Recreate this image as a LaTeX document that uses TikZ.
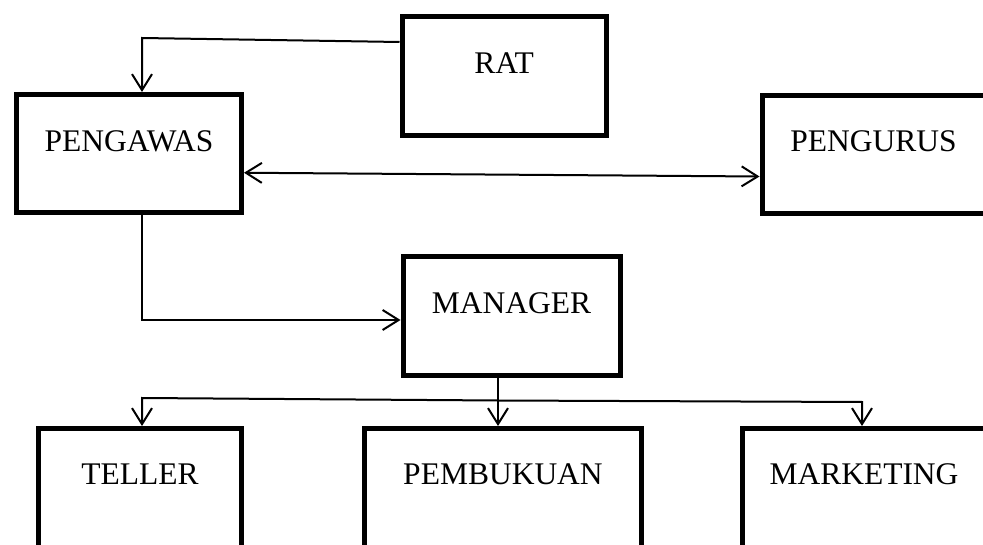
\documentclass[tikz,border=0pt]{standalone}
\usepackage{fontspec}
\setmainfont{Liberation Serif}
\usepackage{tikz}
\usetikzlibrary{arrows.meta,positioning,calc}
\tikzset{
    unit_box/.style={draw=black, fill=white, line width=5pt, inner sep=0pt, align=center, font=\fontsize{31.5}{36}\selectfont, text height=21pt, text depth=26pt, minimum height=118.5pt},
    low_box/.style={unit_box, text depth=36pt, minimum height=126pt},
    link_line/.style={draw=black, line width=2pt, line join=miter},
    link_arrow/.style={link_line, -{Straight Barb[length=16pt,width=20pt]}},
    link_both/.style={link_line, {Straight Barb[length=16pt,width=20pt]}-{Straight Barb[length=16pt,width=20pt]}}
}

\begin{document}
\begin{tikzpicture}[x=1pt, y=-1pt]
  \useasboundingbox (0,0) rectangle (983,545);
  \clip (0,0) rectangle (983,545);

  % Top: RAT, Pengawas, Pengurus
  \node[unit_box, minimum width=204pt] (box_rat) at (504,76) {RAT};
  \node[unit_box, minimum width=225pt] (box_pengawas) at (129,153.75) {PENGAWAS};
  \node[unit_box, minimum width=223pt] (box_pengurus) at (873.5,154.5) {PENGURUS};

  % Middle: Manager
  \node[unit_box, minimum width=217pt] (box_manager) at (511.5,316) {MANAGER};

  % Bottom row (cut off by the page edge)
  \node[low_box, minimum width=203pt] (box_teller) at (140,491.5) {TELLER};
  \node[low_box, minimum width=277pt] (box_pembukuan) at (503,491.5) {PEMBUKUAN};
  \node[low_box, minimum width=243pt] (box_marketing) at (864,491.5) {MARKETING};

  % Bend points of the connectors
  \coordinate (rat_bend) at (142,38);
  \coordinate (mgr_in) at ([yshift=-4pt]box_manager.west);
  \coordinate (split) at (498,400.5);
  \coordinate (teller_bend) at (142,398);
  \coordinate (mkt_bend) at (862,402);

  % Connectors
  \draw[link_arrow] ([yshift=34pt]box_rat.west) -- (rat_bend) -- (rat_bend |- box_pengawas.north);
  \draw[link_both] ([yshift=-19pt]box_pengawas.east) -- ([yshift=-22pt]box_pengurus.west);
  \draw[link_arrow] (rat_bend |- box_pengawas.south) |- (mgr_in);
  \draw[link_arrow] (split |- box_manager.south) -- (split |- box_pembukuan.north);
  \draw[link_arrow] (split) -- (teller_bend) -- (teller_bend |- box_teller.north);
  \draw[link_arrow] (split) -- (mkt_bend) -- (mkt_bend |- box_marketing.north);

\end{tikzpicture}
\end{document}
